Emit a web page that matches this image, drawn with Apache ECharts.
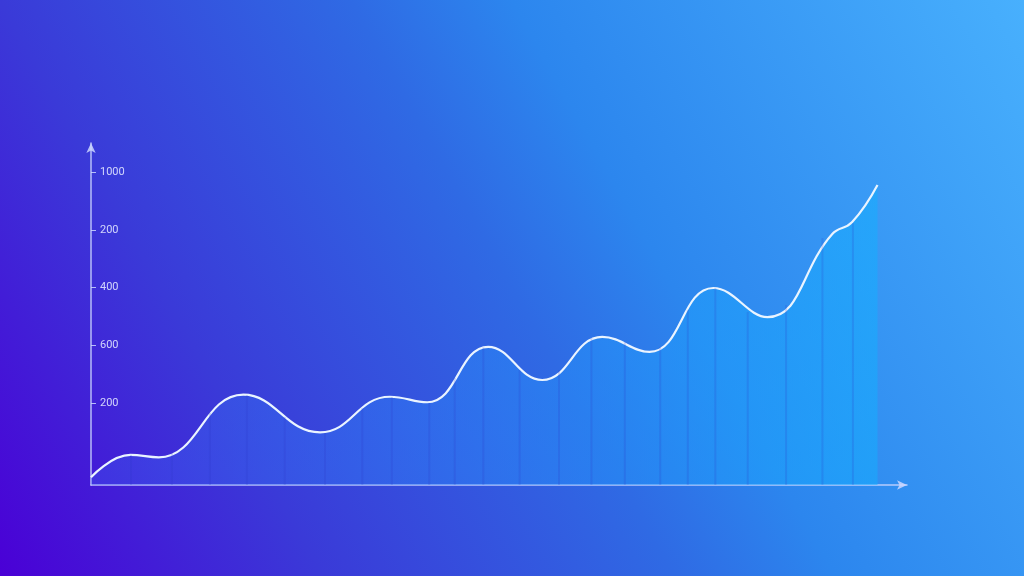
<!DOCTYPE html>
<html>
<head>
<meta charset="utf-8">
<script src="https://cdn.jsdelivr.net/npm/echarts@6/dist/echarts.min.js"></script>
<style>
  html, body { margin: 0; padding: 0; }
  #container { width: 1024px; height: 576px; }
</style>
</head>
<body>
<div id="container"></div>
<script>
// curve points (x position, value)
var curveX = [0, 4.0, 6.9, 15.5, 23.3, 30.4, 34.2, 40.4, 45.9, 52.0, 56.8, 63.3, 68.8, 75.4, 77.4, 80];
var curveY = [2.3, 8.8, 8.1, 26.4, 15.4, 25.8, 24.2, 40.4, 30.7, 43.3, 38.9, 57.6, 49.1, 73.4, 76.8, 87.7];

// vertical stripes under the curve
var stripeX = [4.07, 8.23, 12.1, 15.86, 19.7, 23.8, 27.6, 30.6, 34.4, 37.0, 39.9, 43.6, 47.6, 50.9, 54.3, 57.9, 60.7, 63.5, 66.8, 70.7, 74.4, 77.5];
var stripeY = [8.8, 9.6, 21.1, 26.3, 19.9, 15.2, 22.5, 25.7, 24.0, 31.3, 40.2, 33.6, 33.6, 43.0, 41.8, 40.4, 51.2, 57.6, 50.6, 52.6, 72.2, 76.6];

// y tick labels, bottom to top
var tickLabels = ['200', '600', '400', '200', '1000'];

var dom = document.getElementById('container');
var myChart = echarts.init(dom);

var curveData = curveX.map(function (x, i) { return [x, curveY[i]]; });
var stripeData = stripeX.map(function (x, i) { return [x, stripeY[i]]; });

var axisColor = 'rgba(205,215,255,0.85)';

var option = {
    animation: false,
    backgroundColor: new echarts.graphic.LinearGradient(0, 1, 1, 0, [
        { offset: 0, color: '#4a00d6' },
        { offset: 0.24, color: '#3a3ad8' },
        { offset: 0.5, color: '#2f6ae4' },
        { offset: 0.62, color: '#2c86ee' },
        { offset: 1, color: '#48b0fd' }
    ]),
    grid: [
        { left: 91, top: 143, right: 117, bottom: 91 },
        { left: 91, top: 172, right: 117, bottom: 173 }
    ],
    xAxis: [
        {
            type: 'value',
            gridIndex: 0,
            min: 0,
            max: 83,
            axisLine: {
                show: true,
                symbol: ['none', 'arrow'],
                symbolSize: [7, 10],
                lineStyle: { color: axisColor, width: 1.5 }
            },
            axisTick: { show: false },
            axisLabel: { show: false },
            splitLine: { show: false }
        },
        {
            type: 'value',
            gridIndex: 1,
            show: false
        }
    ],
    yAxis: [
        {
            type: 'value',
            gridIndex: 0,
            min: 0,
            max: 100,
            axisLine: {
                show: true,
                symbol: ['none', 'arrow'],
                symbolSize: [7, 10],
                lineStyle: { color: axisColor, width: 1.5 }
            },
            axisTick: { show: false },
            axisLabel: { show: false },
            splitLine: { show: false }
        },
        {
            type: 'value',
            gridIndex: 1,
            min: 0,
            max: 4,
            interval: 1,
            axisLine: { show: false },
            axisTick: {
                show: true,
                inside: true,
                length: 5,
                lineStyle: { color: axisColor, width: 1 }
            },
            axisLabel: {
                show: true,
                inside: true,
                margin: 9,
                color: 'rgba(225,230,255,0.9)',
                fontSize: 11,
                fontFamily: 'Roboto',
                formatter: function (v) { return tickLabels[v]; }
            },
            splitLine: { show: false }
        }
    ],
    series: [
        {
            type: 'bar',
            xAxisIndex: 0,
            yAxisIndex: 0,
            barWidth: 2,
            data: stripeData,
            itemStyle: { color: 'rgba(45,55,200,0.18)' },
            z: 3
        },
        {
            type: 'line',
            xAxisIndex: 0,
            yAxisIndex: 0,
            data: curveData,
            smooth: 0.45,
            symbol: 'none',
            lineStyle: { color: '#eaf4ff', width: 2.2 },
            areaStyle: {
                color: new echarts.graphic.LinearGradient(0, 0, 1, 0, [
                    { offset: 0, color: 'rgba(60,120,255,0.35)' },
                    { offset: 1, color: 'rgba(20,175,255,0.75)' }
                ])
            },
            z: 2
        }
    ]
};

if (option && typeof option === 'object') {
    myChart.setOption(option, true);
}
</script>
</body>
</html>
